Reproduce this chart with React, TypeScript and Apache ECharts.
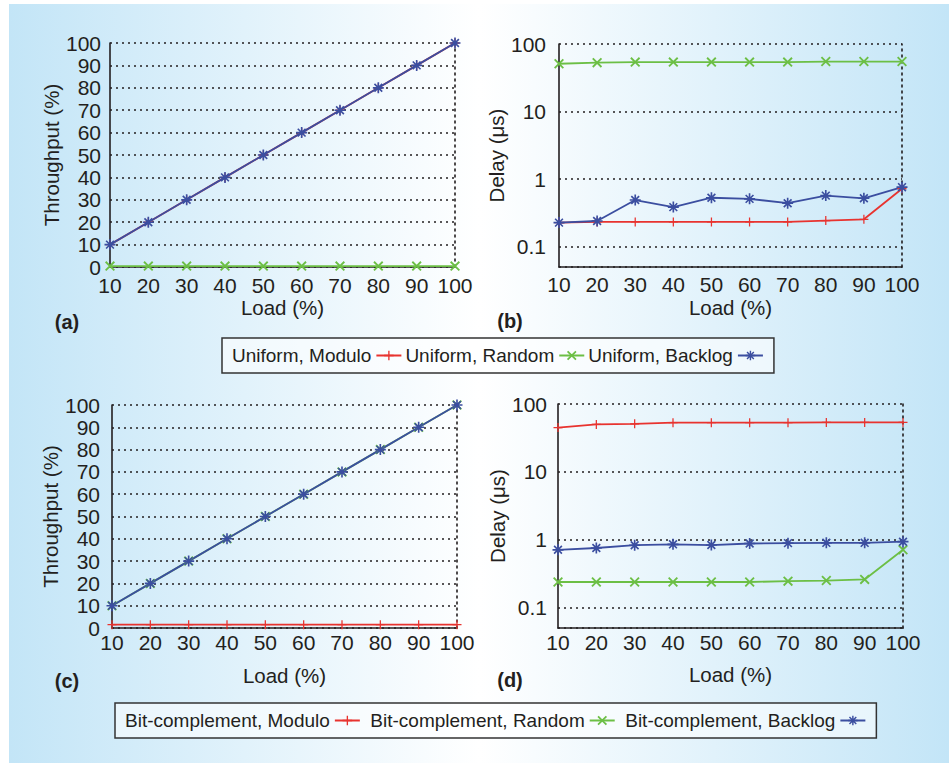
import React, { useEffect, useRef } from 'react';
import * as echarts from 'echarts';

// ---------- data ----------
const loads = [10, 20, 30, 40, 50, 60, 70, 80, 90, 100];
const throughputTicks = [0, 10, 20, 30, 40, 50, 60, 70, 80, 90, 100];
const delayTickLabels = ['0.1', '1', '10', '100'];

const uniThrModulo = [10, 20, 30, 40, 50, 60, 70, 80, 90, 100];
const uniThrRandom = [0.4, 0.4, 0.4, 0.4, 0.4, 0.4, 0.4, 0.4, 0.4, 0.4];
const uniThrBacklog = [10, 20, 30, 40, 50, 60, 70, 80, 90, 100];

const uniDelayModulo = [0.227, 0.232, 0.232, 0.232, 0.232, 0.232, 0.232, 0.243, 0.254, 0.72];
const uniDelayRandom = [51, 53, 54, 54, 54, 54, 54, 55, 55, 55];
const uniDelayBacklog = [0.227, 0.24, 0.49, 0.385, 0.53, 0.51, 0.44, 0.57, 0.52, 0.76];

const bcThrModulo = [1.5, 1.5, 1.5, 1.5, 1.5, 1.5, 1.5, 1.5, 1.5, 1.5];
const bcThrRandom = [10, 20, 30, 40, 50, 60, 70, 80, 90, 100];
const bcThrBacklog = [10, 20, 30, 40, 50, 60, 70, 80, 90, 100];

const bcDelayModulo = [45, 50, 51, 53, 53, 53, 53, 53.5, 53.5, 53.5];
const bcDelayRandom = [0.238, 0.238, 0.238, 0.238, 0.238, 0.238, 0.245, 0.25, 0.26, 0.71];
const bcDelayBacklog = [0.71, 0.755, 0.83, 0.855, 0.835, 0.88, 0.89, 0.9, 0.9, 0.935];

const uniNames = ['Uniform, Modulo', 'Uniform, Random', 'Uniform, Backlog'];
const bcNames = ['Bit-complement, Modulo', 'Bit-complement, Random', 'Bit-complement, Backlog'];

// ---------- styles ----------
const FONT = '"Liberation Sans", Arial, Helvetica, sans-serif';
const TXT = '#231f20';
const RED = '#e8332f';
const GREEN = '#6cbf45';
const BLUE = '#3b4ea0';
const DOT: number[] = [2, 4];

function bar(angleDeg: number, len: number, hw: number): string {
  const a = (angleDeg * Math.PI) / 180;
  const dx = Math.cos(a), dy = Math.sin(a);
  const nx = -dy, ny = dx;
  const pts = [
    [-len * dx + hw * nx, -len * dy + hw * ny],
    [len * dx + hw * nx, len * dy + hw * ny],
    [len * dx - hw * nx, len * dy - hw * ny],
    [-len * dx - hw * nx, -len * dy - hw * ny],
  ];
  return 'M' + pts.map((p) => p[0].toFixed(3) + ',' + p[1].toFixed(3)).join('L') + 'Z';
}
const PLUS = 'path://' + bar(0, 5, 0.7) + bar(90, 5, 0.7);
const CROSS = 'path://' + bar(45, 5, 0.75) + bar(135, 5, 0.75);
const STAR = 'path://' + bar(0, 5, 0.75) + bar(90, 5, 0.75) + bar(45, 5, 0.75) + bar(135, 5, 0.75);

const grids = [
  { left: 110, top: 43, width: 345, height: 224 },
  { left: 559, top: 44, width: 343, height: 223 },
  { left: 112, top: 405, width: 345, height: 223 },
  { left: 558, top: 404, width: 345, height: 224 },
];
const xLabelMargin = [8, 7, 4, 4];
const xNameGap = [30, 30, 37, 36];
const yLabelMargin = [9, 13, 12, 11];
const yNameGap = [47, 50, 50, 50];

function App() {
  const ref = useRef<HTMLDivElement>(null);
  useEffect(() => {
    if (!ref.current) return;
    const chart = echarts.init(ref.current, undefined, { renderer: 'svg' });
    const nameTxt = { color: TXT, fontFamily: FONT, fontSize: 20.5 };
    const tickTxt = { color: TXT, fontFamily: FONT, fontSize: 21 };

    const xAxis = grids.map((_, i) => ({
      gridIndex: i,
      type: 'value',
      min: loads[0],
      max: loads[loads.length - 1],
      interval: 10,
      name: 'Load (%)',
      nameLocation: 'middle',
      nameGap: xNameGap[i],
      nameTextStyle: nameTxt,
      axisLine: { show: true, onZero: false, lineStyle: { color: TXT, width: 1.6 } },
      axisTick: { show: false },
      axisLabel: { ...tickTxt, margin: xLabelMargin[i] },
      splitLine: { show: false },
    }));

    const isLog = [false, true, false, true];
    const yAxis: any[] = grids.map((_, i) => {
      const base: any = {
        gridIndex: i,
        position: 'left',
        name: isLog[i] ? 'Delay (μs)' : 'Throughput (%)',
        nameLocation: 'middle',
        nameGap: yNameGap[i],
        nameTextStyle: nameTxt,
        axisLine: { show: true, onZero: false, lineStyle: { color: TXT, width: 1.6 } },
        axisTick: { show: false },
        splitLine: { show: true, lineStyle: { color: TXT, width: 1.6, type: DOT } },
      };
      if (isLog[i]) {
        return {
          ...base,
          type: 'log',
          logBase: 10,
          min: 0.05,
          max: 100,
          axisLabel: {
            ...tickTxt,
            margin: yLabelMargin[i],
            formatter: (v: number) => {
              const l = Math.log10(v);
              const r = Math.round(l);
              if (Math.abs(l - r) > 1e-6) return '';
              return delayTickLabels[r + 1] ?? '';
            },
          },
        };
      }
      return {
        ...base,
        type: 'value',
        min: throughputTicks[0],
        max: throughputTicks[throughputTicks.length - 1],
        interval: 10,
        axisLabel: { ...tickTxt, margin: yLabelMargin[i] },
      };
    });
    grids.forEach((_, i) => {
      yAxis.push({
        gridIndex: i,
        type: 'value',
        position: 'right',
        min: 0,
        max: 1,
        axisLine: { show: true, lineStyle: { color: TXT, width: 1.6, type: DOT } },
        axisTick: { show: false },
        axisLabel: { show: false },
        splitLine: { show: false },
      });
    });

    const mk = (name: string, gi: number, vals: number[], color: string, symbol: string, size: number) => ({
      type: 'line',
      name,
      xAxisIndex: gi,
      yAxisIndex: gi,
      data: loads.map((x, k) => [x, vals[k]]),
      symbol,
      symbolSize: size,
      showSymbol: true,
      lineStyle: { color, width: 1.8 },
      itemStyle: { color, borderWidth: 0 },
      emphasis: { disabled: true },
      silent: true,
      clip: false,
    });

    const series = [
      mk(uniNames[0], 0, uniThrModulo, RED, PLUS, 9),
      mk(uniNames[1], 0, uniThrRandom, GREEN, CROSS, 10),
      mk(uniNames[2], 0, uniThrBacklog, BLUE, STAR, 11),
      mk(uniNames[0], 1, uniDelayModulo, RED, PLUS, 9),
      mk(uniNames[1], 1, uniDelayRandom, GREEN, CROSS, 10),
      mk(uniNames[2], 1, uniDelayBacklog, BLUE, STAR, 11),
      mk(bcNames[0], 2, bcThrModulo, RED, PLUS, 9),
      mk(bcNames[1], 2, bcThrRandom, GREEN, CROSS, 10),
      mk(bcNames[2], 2, bcThrBacklog, BLUE, STAR, 11),
      mk(bcNames[0], 3, bcDelayModulo, RED, PLUS, 9),
      mk(bcNames[1], 3, bcDelayRandom, GREEN, CROSS, 10),
      mk(bcNames[2], 3, bcDelayBacklog, BLUE, STAR, 11),
    ];

    const legendBase = {
      orient: 'horizontal',
      align: 'right',
      itemWidth: 25,
      itemHeight: 12,
      padding: [8, 10, 8, 10],
      borderColor: '#333',
      borderWidth: 1.5,
      backgroundColor: 'rgba(255,255,255,0.55)',
      selectedMode: false,
      textStyle: { color: TXT, fontFamily: FONT, fontSize: 19 },
    };

    const panelLabels = [
      { t: '(a)', x: 67, y: 322 },
      { t: '(b)', x: 510, y: 321 },
      { t: '(c)', x: 67, y: 681 },
      { t: '(d)', x: 510, y: 680 },
    ];

    chart.setOption({
      animation: false,
      grid: grids.map((g) => ({ ...g, containLabel: false })),
      xAxis,
      yAxis,
      series,
      legend: [
        { ...legendBase, itemGap: 3, data: uniNames, left: 222, top: 338 },
        { ...legendBase, itemGap: 9.5, data: bcNames, left: 115, top: 703 },
      ],
      graphic: [
        {
          type: 'rect',
          silent: true,
          z: -100,
          shape: { x: 9, y: 4, width: 940, height: 759 },
          style: {
            fill: new echarts.graphic.LinearGradient(0, 0, 1, 0, [
              { offset: 0, color: '#c3e5f7' },
              { offset: 0.5, color: '#ffffff' },
              { offset: 1, color: '#c3e5f7' },
            ]),
          },
        },
        ...panelLabels.map((p) => ({
          type: 'text',
          x: p.x,
          y: p.y,
          silent: true,
          style: {
            text: p.t,
            fill: TXT,
            fontFamily: FONT,
            fontSize: 20,
            fontWeight: 'bold',
            align: 'center',
            verticalAlign: 'middle',
          },
        })),
      ],
    });
    return () => chart.dispose();
  }, []);
  return (
    <div
      ref={ref}
      style={{ position: 'absolute', left: 0, top: 0, width: 949, height: 763, background: '#ffffff' }}
    />
  );
}

export default App;
